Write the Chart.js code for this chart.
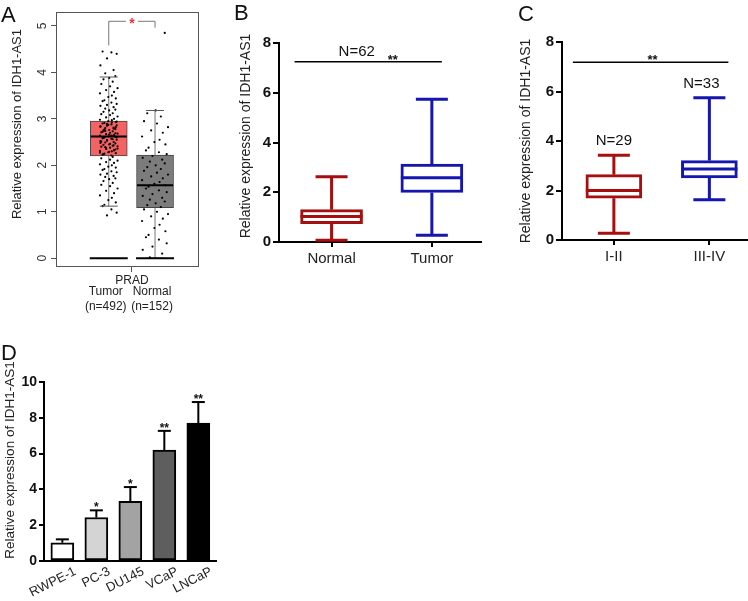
<!DOCTYPE html>
<html>
<head>
<meta charset="utf-8">
<script src="https://cdn.jsdelivr.net/npm/chart.js@4.4.1/dist/chart.umd.min.js"></script>
<style>
  body { margin: 0; background: #fff; }
  #wrap { position: relative; width: 748px; height: 601px; overflow: hidden; }
  canvas { position: absolute; }
  .lbl { position: absolute; font-family: Arial, "Liberation Sans", sans-serif; font-size: 22px; color: #111; line-height: 1; }
</style>
</head>
<body>
<div id="wrap">
  <canvas id="chartA" width="232" height="325" style="left:0;top:0"></canvas>
  <canvas id="chartB" width="252" height="300" style="left:230px;top:0"></canvas>
  <canvas id="chartC" width="268" height="300" style="left:480px;top:0"></canvas>
  <canvas id="chartD" width="240" height="271" style="left:0;top:330px"></canvas>
  <div class="lbl" style="left:1px;top:4px">A</div>
  <div class="lbl" style="left:234px;top:2px">B</div>
  <div class="lbl" style="left:518px;top:3px">C</div>
  <div class="lbl" style="left:1px;top:342px">D</div>
</div>
<script>
// ---- panel A (TCGA PRAD) ----
const aGroups = ['Tumor', 'Normal'];
const aCounts = ['(n=492)', '(n=152)'];
const aLow = [1.12, 0];
const aQ1 = [2.2, 1.09];
const aMedian = [2.62, 1.57];
const aQ3 = [2.95, 2.22];
const aHigh = [3.9, 3.18];
const aBase = [0, 0];
const aTicks = [0, 1, 2, 3, 4, 5];
const aTumorPts = [4.45, 4.43, 4.4, 4.3, 4.15, 4.05, 3.98, 3.92,
  3.88, 3.85, 3.8, 3.75, 3.7, 3.66, 3.62, 3.58, 3.55, 3.5, 3.47, 3.44, 3.4, 3.38, 3.35, 3.32, 3.3,
  3.28, 3.25, 3.22, 3.2, 3.18, 3.15, 3.12, 3.1, 3.08, 3.05, 3.03, 3.0, 2.98, 2.97,
  2.95, 2.93, 2.91, 2.9, 2.88, 2.86, 2.85, 2.83, 2.81, 2.8, 2.78, 2.76, 2.75, 2.73, 2.71, 2.7,
  2.68, 2.67, 2.65, 2.64, 2.63, 2.62, 2.61, 2.6, 2.58, 2.57, 2.55, 2.54, 2.52, 2.5, 2.49, 2.47,
  2.45, 2.44, 2.42, 2.4, 2.38, 2.36, 2.35, 2.33, 2.31, 2.3, 2.28, 2.26, 2.25, 2.23, 2.21,
  2.94, 2.89, 2.84, 2.79, 2.74, 2.69, 2.66, 2.59, 2.56, 2.51, 2.46, 2.41, 2.37, 2.32, 2.27,
  2.92, 2.87, 2.82, 2.77, 2.72, 2.64, 2.6, 2.53, 2.48, 2.43, 2.39, 2.34, 2.29, 2.24,
  2.18, 2.15, 2.12, 2.1, 2.07, 2.05, 2.02, 2.0, 1.97, 1.95, 1.92, 1.9, 1.87, 1.85, 1.82, 1.8,
  1.77, 1.75, 1.72, 1.7, 1.66, 1.62, 1.58, 1.55, 1.5, 1.45, 1.4, 1.35, 1.3, 1.25, 1.2, 1.15,
  1.12, 1.05, 0.98, 0.92];
const aNormalPts = [4.85, 3.18, 3.12, 3.05, 2.95, 2.9, 2.82, 2.75, 2.7, 2.62, 2.55, 2.5, 2.45,
  2.38, 2.32, 2.28, 2.24, 2.2, 2.16, 2.12, 2.08, 2.04, 2.0, 1.96, 1.92, 1.88, 1.84, 1.8, 1.76,
  1.72, 1.68, 1.64, 1.6, 1.57, 1.54, 1.5, 1.46, 1.42, 1.38, 1.34, 1.3, 1.26, 1.22, 1.18, 1.14,
  1.1, 1.05, 1.0, 0.95, 0.9, 0.85, 0.8, 0.72, 0.65, 0.58, 0.5, 0.45, 0.4, 0.32, 0.25, 0.18, 0.1, 0.02];

// ---- panel B (paired tissues) ----
const bGroups = ['Normal', 'Tumor'];
const bMin = [0.07, 0.27];
const bQ1 = [0.74, 1.99];
const bMedian = [1.03, 2.58];
const bQ3 = [1.30, 3.13];
const bMax = [2.62, 5.74];
const bTicks = [0, 2, 4, 6, 8];

// ---- panel C (stage) ----
const cGroups = ['I-II', 'III-IV'];
const cN = ['N=29', 'N=33'];
const cMin = [0.27, 1.63];
const cQ1 = [1.69, 2.51];
const cMedian = [2.0, 2.87];
const cQ3 = [2.64, 3.21];
const cMax = [3.42, 5.75];
const cTicks = [0, 2, 4, 6, 8];

// ---- panel D (cell lines) ----
const dCells = ['RWPE-1', 'PC-3', 'DU145', 'VCaP', 'LNCaP'];
const dMean = [1.02, 2.43, 3.33, 6.19, 7.71];
const dErr = [0.19, 0.40, 0.80, 1.08, 1.17];
const dStars = ['', '*', '*', '**', '**'];
const dTicks = [0, 2, 4, 6, 8, 10];

const FONT = 'Arial, "Liberation Sans", Helvetica, sans-serif';
Chart.defaults.font.family = FONT;
Chart.defaults.color = '#222';
const yTitle = 'Relative expression of IDH1-AS1';

// jitter pattern for the dots (layout only)
const jitter = [-0.7, 0.3, 0.9, -0.2, -0.95, 0.55, -0.4, 0.75, 0.05, -0.6, 0.45, -0.85, 0.15, 1.0, -0.3, 0.6, -1.0, 0.35, -0.05, 0.8, -0.5];

function line(ctx, x1, y1, x2, y2) {
  ctx.beginPath(); ctx.moveTo(x1, y1); ctx.lineTo(x2, y2); ctx.stroke();
}

// rotated y-axis title, placed like in the figure
function titlePlugin(cx, cy, size) {
  return {
    id: 'ytitle',
    afterDraw(chart) {
      const ctx = chart.ctx;
      ctx.save();
      ctx.translate(cx, cy);
      ctx.rotate(-Math.PI / 2);
      ctx.fillStyle = '#222'; ctx.font = size + 'px ' + FONT;
      ctx.textAlign = 'center'; ctx.textBaseline = 'middle';
      ctx.fillText(yTitle, 0, 0);
      ctx.restore();
    }
  };
}

// ================= A =================
const dotsA = aTumorPts.map((v, i) => ({ x: 1 + jitter[i % jitter.length] * 0.19, y: v }))
  .concat(aNormalPts.map((v, i) => ({ x: 2 + jitter[(i + 7) % jitter.length] * 0.28, y: v })));

const panelA = {
  id: 'panelA',
  beforeDatasetsDraw(chart) {
    const { ctx, scales: { x, y } } = chart;
    ctx.save();
    ctx.strokeStyle = '#777'; ctx.lineWidth = 1;
    aGroups.forEach((g, i) => {
      const px = x.getPixelForValue(i + 1);
      line(ctx, px, y.getPixelForValue(aHigh[i]), px, y.getPixelForValue(aQ3[i]));
      line(ctx, px, y.getPixelForValue(aQ1[i]), px, y.getPixelForValue(aLow[i]));
    });
    ctx.restore();
  },
  afterDatasetsDraw(chart) {
    const { ctx, chartArea: ca, scales: { x, y } } = chart;
    ctx.save();
    aGroups.forEach((g, i) => {
      const px = x.getPixelForValue(i + 1);
      ctx.strokeStyle = '#555'; ctx.lineWidth = 1;
      line(ctx, px - 9, y.getPixelForValue(aHigh[i]), px + 9, y.getPixelForValue(aHigh[i]));
      line(ctx, px - 9, y.getPixelForValue(aLow[i]), px + 9, y.getPixelForValue(aLow[i]));
      ctx.strokeStyle = '#000'; ctx.lineWidth = 2;
      line(ctx, px - 18, y.getPixelForValue(aMedian[i]), px + 18, y.getPixelForValue(aMedian[i]));
      line(ctx, px - 19, y.getPixelForValue(aBase[i]), px + 19, y.getPixelForValue(aBase[i]));
      // group labels
      ctx.fillStyle = '#222'; ctx.font = '12px ' + FONT;
      ctx.textAlign = 'center'; ctx.textBaseline = 'middle';
      ctx.fillText(g, px - 3, ca.bottom + 25);
      ctx.fillText(aCounts[i], px - 3, ca.bottom + 40);
    });
    // frame
    ctx.strokeStyle = '#555'; ctx.lineWidth = 1;
    ctx.strokeRect(ca.left + 0.5, ca.top + 0.5, ca.right - ca.left - 1, ca.bottom - ca.top - 1);
    // rotated y tick labels
    ctx.fillStyle = '#333'; ctx.font = '12px ' + FONT;
    aTicks.forEach(t => {
      ctx.save();
      ctx.translate(ca.left - 13, y.getPixelForValue(t));
      ctx.rotate(-Math.PI / 2);
      ctx.textAlign = 'center'; ctx.textBaseline = 'middle';
      ctx.fillText(String(t), 0, 0);
      ctx.restore();
    });
    // significance bracket
    const x1 = x.getPixelForValue(1), x2 = x.getPixelForValue(2);
    const top = y.getPixelForValue(5.1);
    ctx.strokeStyle = '#777'; ctx.lineWidth = 1;
    ctx.beginPath();
    ctx.moveTo(x1, y.getPixelForValue(4.58)); ctx.lineTo(x1, top); ctx.lineTo(x2, top);
    ctx.lineTo(x2, y.getPixelForValue(4.96)); ctx.stroke();
    const mx = (x1 + x2) / 2;
    ctx.fillStyle = '#fff'; ctx.fillRect(mx - 6, top - 4, 12, 8);
    ctx.fillStyle = '#e8313a'; ctx.font = 'bold 14px ' + FONT;
    ctx.textAlign = 'center'; ctx.textBaseline = 'middle';
    ctx.fillText('*', mx, top + 3);
    ctx.restore();
  }
};

new Chart(document.getElementById('chartA'), {
  type: 'scatter',
  data: {
    datasets: [
      {
        type: 'bar',
        data: aGroups.map((g, i) => ({ x: i + 1, y: [aQ1[i], aQ3[i]] })),
        backgroundColor: ['#f46363', '#7c7c7c'],
        borderColor: '#444', borderWidth: 1, borderSkipped: false,
        barThickness: 37, order: 2
      },
      {
        type: 'scatter', data: dotsA,
        pointRadius: 1.1, pointBackgroundColor: '#000', pointBorderWidth: 0, order: 1
      }
    ]
  },
  options: {
    responsive: false, animation: false,
    layout: { padding: { left: 0, top: 12, right: 33, bottom: 36 } },
    plugins: { legend: { display: false }, tooltip: { enabled: false } },
    scales: {
      x: {
        type: 'linear', min: -0.14, max: 2.95, offset: false,
        afterBuildTicks: s => { s.ticks = [{ value: 1.5 }]; },
        ticks: { callback: () => 'PRAD', font: { size: 12 }, color: '#222', padding: 1, maxRotation: 0, autoSkip: false },
        grid: { drawOnChartArea: false, offset: false, tickLength: 5, color: '#555' },
        border: { display: false },
        afterFit: s => { s.height = 22; }
      },
      y: {
        min: -0.19, max: 5.3,
        afterBuildTicks: s => { s.ticks = aTicks.map(v => ({ value: v })); },
        ticks: { display: false },
        grid: { drawOnChartArea: false, tickLength: 5, color: '#555' },
        border: { display: false },
        afterFit: s => { s.width = 56; }
      }
    }
  },
  plugins: [panelA, titlePlugin(17, 124, 13)]
});

// ================= B & C =================
function boxPanel(id, groups, mins, q1s, meds, q3s, maxs, ticks, xmin, xmax, pad, yWidth, barW, title, extra) {
  const colors = ['#a50f0f', '#1515b0'];
  const plugin = {
    id: id + 'box',
    afterDatasetsDraw(chart) {
      const { ctx, scales: { x, y } } = chart;
      ctx.save();
      ctx.lineWidth = 3; ctx.lineCap = 'butt';
      groups.forEach((g, i) => {
        const px = x.getPixelForValue(i);
        ctx.strokeStyle = colors[i];
        line(ctx, px, y.getPixelForValue(q3s[i]), px, y.getPixelForValue(maxs[i]));
        line(ctx, px, y.getPixelForValue(q1s[i]), px, y.getPixelForValue(mins[i]));
        line(ctx, px - 16, y.getPixelForValue(maxs[i]), px + 16, y.getPixelForValue(maxs[i]));
        line(ctx, px - 16, y.getPixelForValue(mins[i]), px + 16, y.getPixelForValue(mins[i]));
        line(ctx, px - barW / 2, y.getPixelForValue(meds[i]), px + barW / 2, y.getPixelForValue(meds[i]));
      });
      extra(ctx, x, y);
      ctx.restore();
    }
  };
  new Chart(document.getElementById(id), {
    type: 'bar',
    data: {
      datasets: [{
        data: groups.map((g, i) => ({ x: i, y: [q1s[i], q3s[i]] })),
        backgroundColor: '#fff', borderColor: colors, borderWidth: 3,
        borderSkipped: false, barThickness: barW
      }]
    },
    options: {
      responsive: false, animation: false,
      layout: { padding: pad },
      plugins: { legend: { display: false }, tooltip: { enabled: false } },
      scales: {
        x: {
          type: 'linear', min: xmin, max: xmax, offset: false,
          afterBuildTicks: s => { s.ticks = groups.map((g, i) => ({ value: i })); },
          ticks: { callback: v => groups[v], font: { size: 15 }, color: '#222', padding: 3, maxRotation: 0, autoSkip: false },
          grid: { drawOnChartArea: false, offset: false, tickLength: 5, color: '#000', lineWidth: 2 },
          border: { color: '#000', width: 2 },
          afterFit: s => { s.height = 30; }
        },
        y: {
          min: 0, max: 8,
          afterBuildTicks: s => { s.ticks = ticks.map(v => ({ value: v })); },
          ticks: { font: { size: 15, weight: 'bold' }, color: '#111', padding: 2 },
          grid: { drawOnChartArea: false, tickLength: 6, color: '#000', lineWidth: 2 },
          border: { color: '#000', width: 2 },
          afterFit: s => { s.width = yWidth; }
        }
      }
    },
    plugins: [plugin, title]
  });
}

boxPanel('chartB', bGroups, bMin, bQ1, bMedian, bQ3, bMax, bTicks, -0.524, 1.49,
  { left: 4, top: 43, right: 1, bottom: 28 }, 45, 62, titlePlugin(16.5, 136, 14),
  (ctx, x, y) => {
    const ly = y.getPixelForValue(7.25);
    const x0 = x.getPixelForValue(0), x1 = x.getPixelForValue(1), mx = (x0 + x1) / 2;
    ctx.strokeStyle = '#000'; ctx.lineWidth = 1.5;
    line(ctx, x0 - 37, ly, x1 + 10, ly);
    ctx.fillStyle = '#111'; ctx.textAlign = 'center';
    ctx.font = '15px ' + FONT; ctx.textBaseline = 'middle';
    ctx.fillText('N=62', mx - 25, ly - 10);
    ctx.font = 'bold 13px ' + FONT; ctx.textBaseline = 'alphabetic';
    ctx.fillText('**', mx + 11, ly + 2);
  });

boxPanel('chartC', cGroups, cMin, cQ1, cMedian, cQ3, cMax, cTicks, -0.543, 1.394,
  { left: 34, top: 42, right: 1, bottom: 30 }, 48, 56, titlePlugin(46.5, 141, 14),
  (ctx, x, y) => {
    const ly = y.getPixelForValue(7.18);
    const x0 = x.getPixelForValue(0), x1 = x.getPixelForValue(1), mx = (x0 + x1) / 2;
    ctx.strokeStyle = '#000'; ctx.lineWidth = 1.5;
    line(ctx, x0 - 41, ly, x1 + 19, ly);
    ctx.fillStyle = '#111'; ctx.textAlign = 'center';
    ctx.font = 'bold 13px ' + FONT; ctx.textBaseline = 'alphabetic';
    ctx.fillText('**', mx - 9, ly + 2);
    ctx.font = '15px ' + FONT; ctx.textBaseline = 'middle';
    ctx.fillText(cN[0], x0, y.getPixelForValue(4.0));
    ctx.fillText(cN[1], x1 - 8, y.getPixelForValue(6.29));
  });

// ================= D =================
const errD = {
  id: 'errD',
  afterDatasetsDraw(chart) {
    const { ctx, chartArea: ca, scales: { x, y } } = chart;
    ctx.save();
    ctx.strokeStyle = '#000'; ctx.lineWidth = 2; ctx.fillStyle = '#111';
    dCells.forEach((c, i) => {
      const px = x.getPixelForValue(i);
      const top = y.getPixelForValue(dMean[i] + dErr[i]);
      line(ctx, px, y.getPixelForValue(dMean[i]), px, top);
      line(ctx, px - 6.5, top, px + 6.5, top);
      if (dStars[i]) {
        ctx.font = 'bold 12px ' + FONT; ctx.textAlign = 'center'; ctx.textBaseline = 'alphabetic';
        ctx.fillText(dStars[i], px, top + 1);
      }
      // slanted category label
      ctx.save();
      ctx.translate(px + 10, ca.bottom + 4);
      ctx.rotate(-27 * Math.PI / 180);
      ctx.font = '13px ' + FONT; ctx.fillStyle = '#222';
      ctx.textAlign = 'right'; ctx.textBaseline = 'top';
      ctx.fillText(c, 0, 0);
      ctx.restore();
    });
    ctx.restore();
  }
};

new Chart(document.getElementById('chartD'), {
  type: 'bar',
  data: {
    datasets: [{
      data: dCells.map((c, i) => ({ x: i, y: dMean[i] })),
      backgroundColor: ['#ffffff', '#d4d4d4', '#a3a3a3', '#5e5e5e', '#000000'],
      borderColor: '#000', borderWidth: 2, borderSkipped: false, barThickness: 23
    }]
  },
  options: {
    responsive: false, animation: false,
    layout: { padding: { left: 0, top: 52, right: 24, bottom: 2 } },
    plugins: { legend: { display: false }, tooltip: { enabled: false } },
    scales: {
      x: {
        type: 'linear', min: -0.54, max: 4.52, offset: false,
        afterBuildTicks: s => { s.ticks = dCells.map((c, i) => ({ value: i })); },
        ticks: { display: false },
        grid: { display: false, offset: false },
        border: { color: '#000', width: 2 },
        afterFit: s => { s.height = 38; }
      },
      y: {
        min: 0, max: 10,
        afterBuildTicks: s => { s.ticks = dTicks.map(v => ({ value: v })); },
        ticks: { font: { size: 14, weight: 'bold' }, color: '#111', padding: 2 },
        grid: { drawOnChartArea: false, tickLength: 5, color: '#000', lineWidth: 2 },
        border: { color: '#000', width: 2 },
        afterFit: s => { s.width = 44; }
      }
    }
  },
  plugins: [errD, titlePlugin(10, 130, 13.5)]
});
</script>
</body>
</html>
